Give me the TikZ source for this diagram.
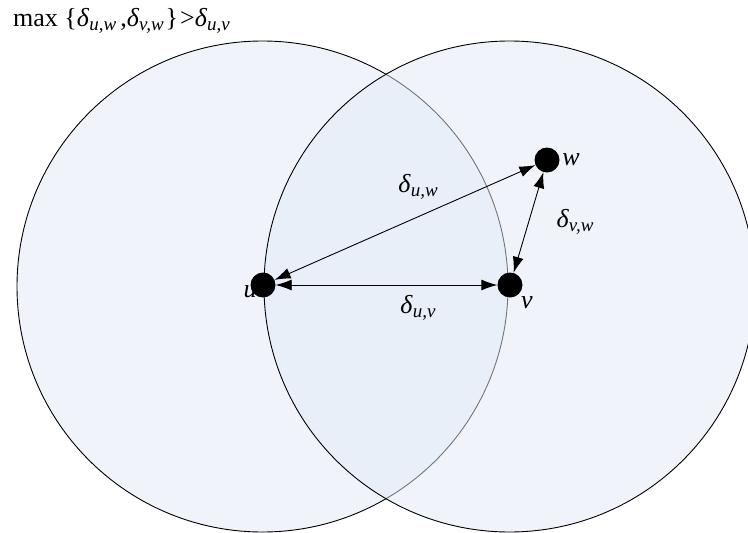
\documentclass[tikz,border=0pt]{standalone}
\usepackage{fontspec}
\setmainfont{Liberation Serif}
\usetikzlibrary{arrows.meta}

\definecolor{rangefill}{RGB}{226,234,246}
\newcommand{\dst}[1]{\textit{δ}\raisebox{-0.35ex}{\fontsize{19}{19}\selectfont\textit{#1}}}

\begin{document}
\begin{tikzpicture}[x=1pt,y=-1pt,
    dot/.style={circle,fill=black,inner sep=0pt,minimum size=25pt},
    dist/.style={{Latex[length=16pt,width=11pt]}-{Latex[length=16pt,width=11pt]},line width=0.9pt},
    lbl/.style={inner sep=0pt,font=\fontsize{26}{26}\selectfont}]
    \useasboundingbox (0,0) rectangle (748,533);

    % Define the centres of the two ranges
    \coordinate (cu) at (262.5,286.5);
    \coordinate (cv) at (509.5,286.5);

    % Draw the two ranges
    \draw[line width=0.9pt,fill=rangefill,fill opacity=0.5] (cu) circle [radius=245.5pt];
    \draw[line width=0.9pt,fill=rangefill,fill opacity=0.5] (cv) circle [radius=245.5pt];

    % Draw the nodes
    \node[dot] (u) at (263,285) {};
    \node[dot] (v) at (510,285) {};
    \node[dot] (w) at (547,160) {};

    % Place the labels of the nodes
    \node[lbl] (lu) at (250,292) {\textit{u}};
    \node[lbl] (lv) at (527,303) {\textit{v}};
    \node[lbl] (lw) at (571,160) {\textit{w}};

    % Draw the distances
    \draw[dist] (u) -- (v);
    \draw[dist] (u) -- (w);
    \draw[dist] (v) -- (w);

    % Place the distance labels
    \node[lbl] (duw) at (418,187) {\dst{u,w}};
    \node[lbl] (duv) at (418,308) {\dst{u,v}};
    \node[lbl] (dvw) at (575,222) {\dst{v,w}};

    % Place the condition
    \node[lbl,anchor=base west] (cond) at (13,26) {max \{\dst{u,w}\kern4pt,\dst{v,w}\kern2pt\}\kern2pt>\dst{u,v}};
\end{tikzpicture}
\end{document}
